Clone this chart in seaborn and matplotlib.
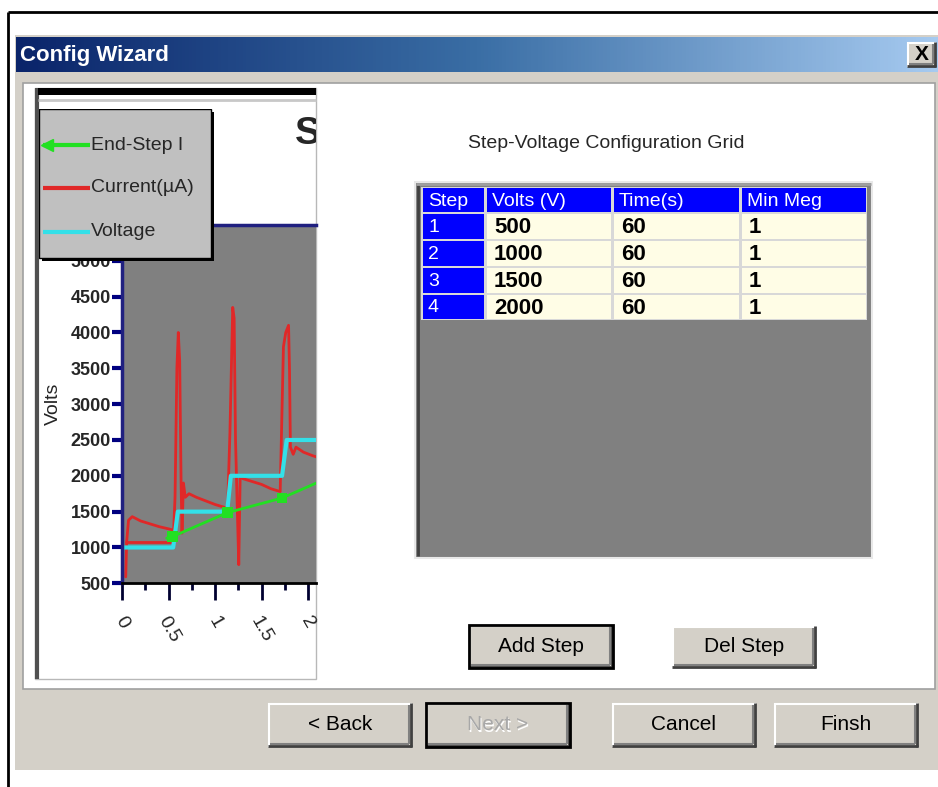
import numpy as np
import pandas as pd
import matplotlib
matplotlib.use("Agg")
import matplotlib.pyplot as plt
import seaborn as sns
from matplotlib.patches import Rectangle
from matplotlib.colors import LinearSegmentedColormap

# ---- chart data ----
volt_t = [0.0, 0.55, 0.60, 1.13, 1.17, 1.72, 1.77, 2.10]
volt_v = [1000, 1000, 1500, 1500, 2000, 2000, 2500, 2500]

cur_t = [0.04, 0.05, 0.07, 0.11, 0.20, 0.30, 0.40, 0.50, 0.555, 0.57, 0.59, 0.605,
         0.62, 0.635, 0.645, 0.66, 0.68, 0.72, 0.80, 0.90, 1.00, 1.10, 1.135, 1.16,
         1.19, 1.205, 1.22, 1.24, 1.255, 1.27, 1.30, 1.40, 1.50, 1.60, 1.70, 1.735,
         1.76, 1.79, 1.80, 1.81, 1.84, 1.87, 1.95, 2.05, 2.10]
cur_v = [590, 1080, 1380, 1430, 1370, 1330, 1290, 1260, 1240, 1700, 3500, 4000,
         3600, 1900, 1200, 1900, 1700, 1750, 1700, 1650, 1600, 1560, 1560, 2600,
         4350, 4200, 2500, 1500, 760, 1980, 1960, 1920, 1880, 1820, 1780, 3800,
         4000, 4100, 3500, 2400, 2300, 2400, 2330, 2280, 2260]
base_t = [0.04, 0.55]
base_v = [1080, 1080]

endstep_t = [0.48, 0.54, 1.13, 1.72, 2.09]
endstep_i = [1130, 1150, 1485, 1690, 1900]

x_ticks = [0, 0.5, 1, 1.5, 2]
x_ticklabels = ["0", "0.5", "1", "1.5", "2"]
x_minor = [0.25, 0.75, 1.25, 1.75]
y_ticks = [500, 1000, 1500, 2000, 2500, 3000, 3500, 4000, 4500, 5000]

legend_labels = ["End-Step I", "Current(µA)", "Voltage"]

# ---- grid data ----
grid_headers = ["Step", "Volts (V)", "Time(s)", "Min Meg"]
steps = [1, 2, 3, 4]
step_volts = [500, 1000, 1500, 2000]
step_times = [60, 60, 60, 60]
step_minmeg = [1, 1, 1, 1]

nav_buttons = ["< Back", "Next >", "Cancel", "Finsh"]

sns.set_style("white")
plt.rcParams["font.family"] = ["Liberation Sans", "DejaVu Sans"]

W, H = 938, 787
fig = plt.figure(figsize=(W / 100, H / 100), dpi=100)


def px(x0, y0, x1, y1):
    return [x0 / W, 1 - y1 / H, (x1 - x0) / W, (y1 - y0) / H]


bg = fig.add_axes([0, 0, 1, 1])
bg.axis("off")

GRAY = "#D4D0C8"


def box(x0, y0, x1, y1, fc, ec="none", lw=0, z=1):
    r = Rectangle((x0, y0), x1 - x0, y1 - y0, facecolor=fc, edgecolor=ec, linewidth=lw, zorder=z)
    bg.add_patch(r)
    return r


def line(xs, ys, c, lw, z=2):
    bg.plot(xs, ys, color=c, lw=lw, zorder=z, solid_capstyle="butt")


def button(x0, y0, x1, y1, label, default=False, enabled=True, fs=15, weight="normal"):
    box(x0, y0, x1, y1, GRAY, z=3)
    line([x0, x1], [y0 + 1, y0 + 1], "white", 1.5, 4)
    line([x0 + 1, x0 + 1], [y0, y1], "white", 1.5, 4)
    line([x0, x1], [y1 - 1, y1 - 1], "#404040", 2, 4)
    line([x1 - 1, x1 - 1], [y0, y1], "#404040", 2, 4)
    line([x0 + 2, x1 - 3], [y1 - 3, y1 - 3], "#808080", 1.5, 4)
    line([x1 - 3, x1 - 3], [y0 + 2, y1 - 3], "#808080", 1.5, 4)
    if default:
        box(x0, y0, x1, y1, "none", ec="black", lw=2, z=5)
    cx, cy = (x0 + x1) / 2, (y0 + y1) / 2
    if enabled:
        bg.text(cx, cy, label, ha="center", va="center", fontsize=fs, color="black",
                fontweight=weight, zorder=6)
    else:
        bg.text(cx + 1, cy + 1, label, ha="center", va="center", fontsize=fs, color="white", zorder=6)
        bg.text(cx, cy, label, ha="center", va="center", fontsize=fs, color="#A8A8A8", zorder=6)


# outer frame
line([8, W], [12, 12], "black", 2)
line([8, 8], [12, H], "black", 2)

# dialog body
box(15, 35, W, 770, GRAY)

# title bar gradient
cmap = LinearSegmentedColormap.from_list("tb", ["#0A246A", "#3A6EA5", "#A6CAF0"])
bg.imshow(np.linspace(0, 1, 256)[None, :], cmap=cmap, aspect="auto",
          extent=(16, W, 72, 37), zorder=2)
bg.text(20, 55, "Config Wizard", color="white", fontsize=16, fontweight="bold",
        ha="left", va="center", zorder=3)
button(907, 42, 936, 67, "X", fs=15, weight="bold")

# main white panel
box(23, 83, 935, 689, "white", ec="#A0A0A0", lw=1.2, z=2)

# chart panel (its title is cut off by the panel edge)
panel = box(35, 88, 316, 679, "white", ec="#B8B8B8", lw=1, z=2)
line([36.5, 36.5], [88, 679], "#505050", 3, 3)
box(38, 88, 316, 95, "black", z=3)
line([38, 316], [100, 100], "#C8C8C8", 2, 3)
ttl = bg.text(295, 134, "Step", fontsize=28, fontweight="bold",
              ha="left", va="center", zorder=4, clip_on=True)
ttl.set_clip_path(panel)

# grid title
bg.text(468, 144, "Step-Voltage Configuration Grid", fontsize=14, ha="left", va="center", zorder=3)

# grid frame
box(415, 182, 872, 558, "#808080", ec="#E8E8E8", lw=1.5, z=2)
line([418, 418], [184, 556], "#404040", 2, 3)
line([416, 871], [184, 184], "#A0A0A0", 2, 3)

col_edges = [421, 485, 612, 740, 867]
row_edges = [187, 213, 240, 267, 294, 320]
box(col_edges[0], row_edges[0], col_edges[-1], row_edges[-1], "#D8D8D8", z=3)

for i, head in enumerate(grid_headers):
    box(col_edges[i] + 1.5, row_edges[0] + 1, col_edges[i + 1] - 1, row_edges[1] - 1.5, "#0000FF", z=4)
    bg.text(col_edges[i] + 7, (row_edges[0] + row_edges[1]) / 2 + 1, head, color="white",
            fontsize=14, ha="left", va="center", zorder=5)

for r, (s, v, t, m) in enumerate(zip(steps, step_volts, step_times, step_minmeg)):
    ya, yb = row_edges[r + 1], row_edges[r + 2]
    cy = (ya + yb) / 2 + 1
    box(col_edges[0] + 1.5, ya + 1, col_edges[1] - 1, yb - 1.5, "#0000FF", z=4)
    bg.text(col_edges[0] + 7, cy, str(s), color="white", fontsize=14, ha="left", va="center", zorder=5)
    for c, val in enumerate([v, t, m], start=1):
        box(col_edges[c] + 1.5, ya + 1, col_edges[c + 1] - 1, yb - 1.5, "#FFFDE6", z=4)
        bg.text(col_edges[c] + 9, cy, str(val), color="black", fontsize=16, fontweight="bold",
                ha="left", va="center", zorder=5)

# grid buttons
button(469, 625, 613, 668, "Add Step", default=True)
button(672, 626, 816, 668, "Del Step")

# navigation buttons
nav_x = [268, 426, 612, 774]
for x0, lab in zip(nav_x, nav_buttons):
    button(x0, 703, x0 + 144, 747, lab, default=(lab == "Next >"), enabled=(lab != "Next >"))

bg.set_xlim(0, W)
bg.set_ylim(H, 0)

# ---- the chart ----
ax = fig.add_axes(px(122, 225, 316, 583.3), zorder=2)
ax.set_facecolor("#808080")

cur_df = pd.concat([
    pd.DataFrame({"t": cur_t, "val": cur_v, "trace": 0}),
    pd.DataFrame({"t": base_t, "val": base_v, "trace": 1}),
])
sns.lineplot(data=cur_df, x="t", y="val", units="trace", estimator=None, sort=False,
             color="#E02828", lw=2, ax=ax)
volt_df = pd.DataFrame({"t": volt_t, "val": volt_v})
sns.lineplot(data=volt_df, x="t", y="val", sort=False, color="#33E0E8", lw=3, ax=ax)
es_df = pd.DataFrame({"t": endstep_t, "val": endstep_i})
sns.lineplot(data=es_df, x="t", y="val", sort=False, color="#22E022", lw=2, ax=ax)
sns.scatterplot(data=es_df.iloc[1:4], x="t", y="val", marker="s", s=60, color="#22E022",
                edgecolor="none", ax=ax, zorder=5)

ax.set_xlim(0, 2.085)
ax.set_ylim(500, 5500)
ax.set_xticks(x_ticks)
ax.set_xticklabels(x_ticklabels, rotation=-60, fontsize=14)
ax.set_xticks(x_minor, minor=True)
ax.set_yticks(y_ticks)
ax.set_yticklabels([str(v) for v in y_ticks], fontsize=13, fontweight="bold")
ax.tick_params(axis="y", left=True, direction="out", length=7, width=3, color="#000080", pad=1)
ax.tick_params(axis="x", which="major", bottom=True, direction="out", length=12, width=2,
               color="#000030", pad=10)
ax.tick_params(axis="x", which="minor", bottom=True, direction="out", length=5, width=2,
               color="#000030")
ax.set_xlabel("")
ax.set_ylabel("Volts", fontsize=14, labelpad=6)
for side in ["left", "top"]:
    ax.spines[side].set_color("#202080")
    ax.spines[side].set_linewidth(2.5)
ax.spines["bottom"].set_color("black")
ax.spines["bottom"].set_linewidth(2)
ax.spines["right"].set_visible(False)

# ---- legend box ----
lg = fig.add_axes(px(39, 109, 215, 262), zorder=5)
lg.axis("off")
lg.set_xlim(39, 215)
lg.set_ylim(262, 109)
lg.add_patch(Rectangle((42, 112), 172, 149, facecolor="black", edgecolor="none"))
lg.add_patch(Rectangle((39, 109), 172, 149, facecolor="#C0C0C0", edgecolor="black", lw=1))
leg_colors = ["#22E022", "#E02828", "#33E0E8"]
leg_y = [145, 188, 232]
for lab, col, yy in zip(legend_labels, leg_colors, leg_y):
    lg.plot([43, 90], [yy, yy], color=col, lw=3, solid_capstyle="butt")
    lg.text(91, yy, lab, fontsize=14, ha="left", va="center")
lg.plot([47], [leg_y[0]], marker="<", color=leg_colors[0], ms=8)

fig.savefig("out.png", dpi=100)
